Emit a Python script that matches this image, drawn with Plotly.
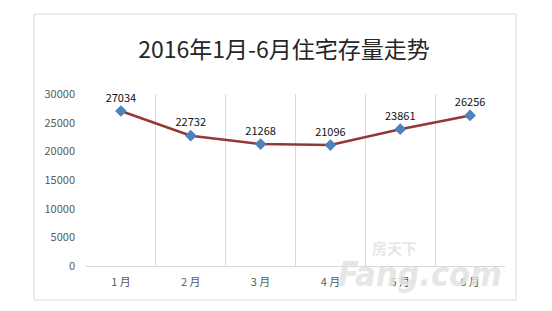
import plotly.graph_objects as go

months = ["1 月", "2 月", "3 月", "4 月", "5 月", "6 月"]
stock = [27034, 22732, 21268, 21096, 23861, 26256]
y_ticks = [0, 5000, 10000, 15000, 20000, 25000, 30000]
y_tick_labels = ["0", "5000", "10000", "15000", "20000", "25000", "30000"]
title_text = "2016年1月-6月住宅存量走势"

FONT = "Noto Sans CJK SC, Noto Sans, sans-serif"

fig = go.Figure()
fig.add_trace(go.Scatter(
    x=months, y=stock, mode="lines+markers+text",
    text=[str(v) for v in stock], textposition="top center",
    textfont=dict(size=11, color="#111111", family=FONT),
    line=dict(color="#953735", width=2.5),
    marker=dict(symbol="diamond", size=9, color="#4F81BD"),
    cliponaxis=False,
))

W, H = 552, 311
L, R, T, B = 86, 505, 94, 266
pw, ph = R - L, B - T

def px(x):
    return (x - L) / pw

def py(y):
    return (B - y) / ph

fig.add_shape(type="rect", xref="paper", yref="paper",
              x0=px(34), x1=px(516), y0=py(300), y1=py(14),
              line=dict(color="#d9d9d9", width=1), layer="below")

fig.add_annotation(text="<b><i>Fang.com</i></b>", xref="paper", yref="paper",
                   x=px(420), y=py(274), xanchor="center", yanchor="middle",
                   showarrow=False,
                   font=dict(size=34, color="rgba(226,226,226,0.85)",
                             family="DejaVu Sans Condensed, DejaVu Sans"))
fig.add_annotation(text="<b>房天下</b>", xref="paper", yref="paper",
                   x=px(394), y=py(247), xanchor="center", yanchor="middle",
                   showarrow=False,
                   font=dict(size=15, color="rgba(226,226,226,0.85)", family=FONT))

fig.update_layout(
    width=W, height=H,
    margin=dict(l=L, r=W - R, t=T, b=H - B),
    paper_bgcolor="white", plot_bgcolor="white",
    showlegend=False,
    title=dict(text=title_text, x=284 / W, xanchor="center",
               y=1 - 50 / H, yanchor="middle", yref="container",
               font=dict(size=23, color="#262626", family=FONT)),
    font=dict(family=FONT),
)
fig.update_xaxes(type="category", range=[-0.5, 5.5], tickson="boundaries",
                 showgrid=True, gridcolor="#d9d9d9", gridwidth=1,
                 showline=True, linecolor="#d9d9d9", linewidth=1,
                 ticks="", tickfont=dict(size=11, color="#595959", family=FONT),
                 ticklabelstandoff=6, zeroline=False)
fig.update_yaxes(range=[0, 30000], tickvals=y_ticks, ticktext=y_tick_labels,
                 showgrid=False, showline=False, zeroline=False, ticks="",
                 tickfont=dict(size=11, color="#595959", family=FONT),
                 ticklabelstandoff=10)

fig.write_html("out.html")
